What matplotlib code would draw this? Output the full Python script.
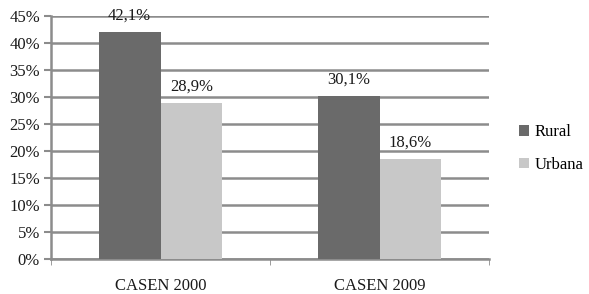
import numpy as np
import matplotlib
matplotlib.use('Agg')
import matplotlib.pyplot as plt
from matplotlib.ticker import FuncFormatter

plt.rcParams['font.family'] = ['Liberation Serif', 'DejaVu Serif']

# datos
categorias = ['CASEN 2000', 'CASEN 2009']
rural = [42.1, 30.1]
urbana = [28.9, 18.6]
etiquetas_y = [0, 5, 10, 15, 20, 25, 30, 35, 40, 45]

gris_linea = '#8c8c8c'
fig = plt.figure(figsize=(5.89, 2.94), dpi=100)
ax = fig.add_axes([51 / 589, 1 - 259 / 294, 438 / 589, 243 / 294])

x = np.arange(len(categorias))
ancho = 0.283
b1 = ax.bar(x - ancho / 2, rural, ancho, color='#6a6a6a', label='Rural', zorder=3)
b2 = ax.bar(x + ancho / 2, urbana, ancho, color='#c8c8c8', label='Urbana', zorder=3)

for barras in (b1, b2):
    for b in barras:
        h = b.get_height()
        ax.annotate(f'{h:.1f}%'.replace('.', ','), (b.get_x() + b.get_width() / 2, h),
                    xytext=(0, 6), textcoords='offset points', ha='center', va='bottom',
                    fontsize=12, color='#1a1a1a')

ax.set_xlim(-0.5, 1.5)
ax.set_ylim(0, 45)
ax.set_yticks(etiquetas_y)
ax.yaxis.set_major_formatter(FuncFormatter(lambda v, p: f'{v:.0f}%'))
ax.yaxis.grid(True, color=gris_linea, linewidth=1.8, zorder=0)
ax.set_xticks(x)
ax.set_xticklabels(categorias)
ax.set_xticks([-0.5, 0.5, 1.5], minor=True)
ax.tick_params(axis='x', which='major', length=0, pad=14, labelsize=12, colors='#1a1a1a')
ax.tick_params(axis='x', which='minor', length=4, color=gris_linea)
ax.tick_params(axis='y', length=5, width=1.5, color=gris_linea, labelsize=12, labelcolor='#1a1a1a', pad=3)

for lado in ('top', 'right'):
    ax.spines[lado].set_visible(False)
for lado in ('left', 'bottom'):
    ax.spines[lado].set_color(gris_linea)
    ax.spines[lado].set_linewidth(1.8)

ax.legend(loc='center left', bbox_to_anchor=(1.035, 0.455), frameon=False,
          fontsize=12, handlelength=0.6, handleheight=0.6, handletextpad=0.3,
          labelspacing=1.0)

fig.savefig('out.png', dpi=100)
